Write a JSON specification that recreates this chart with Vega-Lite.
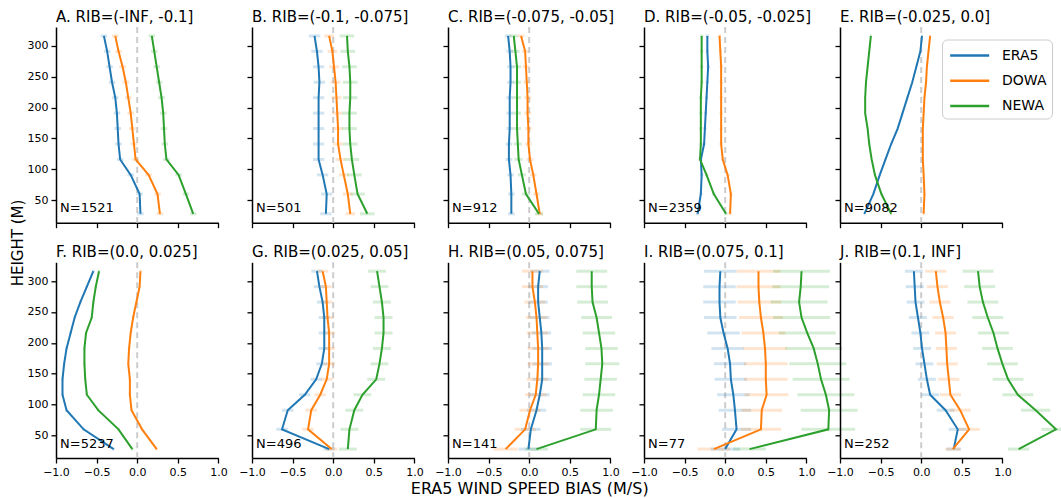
{
 "$schema": "https://vega.github.io/schema/vega-lite/v6.json",
 "background": "white",
 "padding": {"left": 10, "top": 10, "right": 2, "bottom": 2},
 "columns": 5,
 "spacing": {"row": 39.3, "column": 33},
 "bounds": "flush",
 "config": {
  "view": {"stroke": null},
  "font": "DejaVu Sans",
  "title": {"anchor": "start", "frame": "group", "fontSize": 15, "fontWeight": "normal", "font": "DejaVu Sans", "color": "black", "offset": 1},
  "axis": {"grid": false, "labelOverlap": false, "labelFlush": false, "domainColor": "black", "domainWidth": 1.5, "tickColor": "black", "tickWidth": 1.3, "tickSize": 5, "labelFont": "DejaVu Sans", "labelFontSize": 11, "labelColor": "black", "labelPadding": 3, "titleFont": "DejaVu Sans", "titleFontSize": 16, "titleFontWeight": "normal", "titleColor": "black"},
  "legend": {"orient": "none", "legendX": 886, "legendY": 12.5, "symbolType": "M-0.8,0H3.2", "symbolFillColor": "transparent", "symbolOpacity": 1, "symbolStrokeWidth": 2.5, "symbolSize": 380, "labelFont": "DejaVu Sans", "labelFontSize": 14, "labelColor": "black", "strokeColor": "#cccccc", "fillColor": "white", "cornerRadius": 5, "padding": 5, "rowPadding": 7.2, "labelOffset": 33}
 },
 "datasets": {
  "d": [
   {"p":"A","m":"ERA5","h":316,"b":-0.41,"e":0.04},{"p":"A","m":"ERA5","h":291,"b":-0.37,"e":0.04},{"p":"A","m":"ERA5","h":266,"b":-0.34,"e":0.04},{"p":"A","m":"ERA5","h":241,"b":-0.31,"e":0.04},{"p":"A","m":"ERA5","h":216,"b":-0.27,"e":0.04},{"p":"A","m":"ERA5","h":191,"b":-0.25,"e":0.04},{"p":"A","m":"ERA5","h":166,"b":-0.24,"e":0.04},{"p":"A","m":"ERA5","h":141,"b":-0.23,"e":0.04},{"p":"A","m":"ERA5","h":116,"b":-0.21,"e":0.04},{"p":"A","m":"ERA5","h":91,"b":-0.08,"e":0.04},{"p":"A","m":"ERA5","h":60,"b":0.03,"e":0.04},{"p":"A","m":"ERA5","h":28,"b":0.04,"e":0.04},
   {"p":"A","m":"DOWA","h":316,"b":-0.27,"e":0.04},{"p":"A","m":"DOWA","h":291,"b":-0.23,"e":0.04},{"p":"A","m":"DOWA","h":266,"b":-0.18,"e":0.04},{"p":"A","m":"DOWA","h":241,"b":-0.14,"e":0.04},{"p":"A","m":"DOWA","h":216,"b":-0.11,"e":0.04},{"p":"A","m":"DOWA","h":191,"b":-0.08,"e":0.04},{"p":"A","m":"DOWA","h":166,"b":-0.06,"e":0.04},{"p":"A","m":"DOWA","h":141,"b":-0.04,"e":0.04},{"p":"A","m":"DOWA","h":116,"b":-0.02,"e":0.04},{"p":"A","m":"DOWA","h":91,"b":0.14,"e":0.04},{"p":"A","m":"DOWA","h":60,"b":0.25,"e":0.04},{"p":"A","m":"DOWA","h":28,"b":0.28,"e":0.04},
   {"p":"A","m":"NEWA","h":316,"b":0.18,"e":0.04},{"p":"A","m":"NEWA","h":291,"b":0.21,"e":0.04},{"p":"A","m":"NEWA","h":266,"b":0.24,"e":0.04},{"p":"A","m":"NEWA","h":241,"b":0.27,"e":0.04},{"p":"A","m":"NEWA","h":216,"b":0.30,"e":0.04},{"p":"A","m":"NEWA","h":191,"b":0.32,"e":0.04},{"p":"A","m":"NEWA","h":166,"b":0.33,"e":0.04},{"p":"A","m":"NEWA","h":141,"b":0.34,"e":0.04},{"p":"A","m":"NEWA","h":116,"b":0.36,"e":0.04},{"p":"A","m":"NEWA","h":91,"b":0.51,"e":0.04},{"p":"A","m":"NEWA","h":60,"b":0.60,"e":0.04},{"p":"A","m":"NEWA","h":28,"b":0.69,"e":0.04},

   {"p":"B","m":"ERA5","h":316,"b":-0.23,"e":0.07},{"p":"B","m":"ERA5","h":291,"b":-0.20,"e":0.07},{"p":"B","m":"ERA5","h":266,"b":-0.18,"e":0.07},{"p":"B","m":"ERA5","h":241,"b":-0.17,"e":0.07},{"p":"B","m":"ERA5","h":216,"b":-0.18,"e":0.07},{"p":"B","m":"ERA5","h":191,"b":-0.18,"e":0.07},{"p":"B","m":"ERA5","h":166,"b":-0.18,"e":0.07},{"p":"B","m":"ERA5","h":141,"b":-0.18,"e":0.07},{"p":"B","m":"ERA5","h":116,"b":-0.18,"e":0.07},{"p":"B","m":"ERA5","h":91,"b":-0.13,"e":0.07},{"p":"B","m":"ERA5","h":60,"b":-0.08,"e":0.07},{"p":"B","m":"ERA5","h":28,"b":-0.09,"e":0.07},
   {"p":"B","m":"DOWA","h":316,"b":-0.05,"e":0.06},{"p":"B","m":"DOWA","h":291,"b":-0.01,"e":0.06},{"p":"B","m":"DOWA","h":266,"b":0.01,"e":0.06},{"p":"B","m":"DOWA","h":241,"b":0.03,"e":0.06},{"p":"B","m":"DOWA","h":216,"b":0.04,"e":0.06},{"p":"B","m":"DOWA","h":191,"b":0.05,"e":0.06},{"p":"B","m":"DOWA","h":166,"b":0.06,"e":0.06},{"p":"B","m":"DOWA","h":141,"b":0.06,"e":0.06},{"p":"B","m":"DOWA","h":116,"b":0.09,"e":0.06},{"p":"B","m":"DOWA","h":91,"b":0.13,"e":0.06},{"p":"B","m":"DOWA","h":60,"b":0.18,"e":0.06},{"p":"B","m":"DOWA","h":28,"b":0.21,"e":0.06},
   {"p":"B","m":"NEWA","h":316,"b":0.17,"e":0.09},{"p":"B","m":"NEWA","h":291,"b":0.18,"e":0.09},{"p":"B","m":"NEWA","h":266,"b":0.20,"e":0.09},{"p":"B","m":"NEWA","h":241,"b":0.21,"e":0.09},{"p":"B","m":"NEWA","h":216,"b":0.21,"e":0.09},{"p":"B","m":"NEWA","h":191,"b":0.20,"e":0.09},{"p":"B","m":"NEWA","h":166,"b":0.20,"e":0.09},{"p":"B","m":"NEWA","h":141,"b":0.21,"e":0.09},{"p":"B","m":"NEWA","h":116,"b":0.23,"e":0.09},{"p":"B","m":"NEWA","h":91,"b":0.26,"e":0.09},{"p":"B","m":"NEWA","h":60,"b":0.30,"e":0.09},{"p":"B","m":"NEWA","h":28,"b":0.42,"e":0.09},

   {"p":"C","m":"ERA5","h":316,"b":-0.26,"e":0.04},{"p":"C","m":"ERA5","h":291,"b":-0.24,"e":0.04},{"p":"C","m":"ERA5","h":266,"b":-0.23,"e":0.04},{"p":"C","m":"ERA5","h":241,"b":-0.23,"e":0.04},{"p":"C","m":"ERA5","h":216,"b":-0.24,"e":0.04},{"p":"C","m":"ERA5","h":191,"b":-0.24,"e":0.04},{"p":"C","m":"ERA5","h":166,"b":-0.24,"e":0.04},{"p":"C","m":"ERA5","h":141,"b":-0.25,"e":0.04},{"p":"C","m":"ERA5","h":116,"b":-0.25,"e":0.04},{"p":"C","m":"ERA5","h":91,"b":-0.23,"e":0.04},{"p":"C","m":"ERA5","h":60,"b":-0.22,"e":0.04},{"p":"C","m":"ERA5","h":28,"b":-0.22,"e":0.04},
   {"p":"C","m":"DOWA","h":316,"b":-0.10,"e":0.04},{"p":"C","m":"DOWA","h":291,"b":-0.05,"e":0.04},{"p":"C","m":"DOWA","h":266,"b":-0.04,"e":0.04},{"p":"C","m":"DOWA","h":241,"b":-0.03,"e":0.04},{"p":"C","m":"DOWA","h":216,"b":-0.02,"e":0.04},{"p":"C","m":"DOWA","h":191,"b":-0.02,"e":0.04},{"p":"C","m":"DOWA","h":166,"b":-0.01,"e":0.04},{"p":"C","m":"DOWA","h":141,"b":-0.01,"e":0.04},{"p":"C","m":"DOWA","h":116,"b":0.01,"e":0.04},{"p":"C","m":"DOWA","h":91,"b":0.05,"e":0.04},{"p":"C","m":"DOWA","h":60,"b":0.09,"e":0.04},{"p":"C","m":"DOWA","h":28,"b":0.13,"e":0.04},
   {"p":"C","m":"NEWA","h":316,"b":-0.19,"e":0.05},{"p":"C","m":"NEWA","h":291,"b":-0.17,"e":0.05},{"p":"C","m":"NEWA","h":266,"b":-0.15,"e":0.05},{"p":"C","m":"NEWA","h":241,"b":-0.15,"e":0.05},{"p":"C","m":"NEWA","h":216,"b":-0.15,"e":0.05},{"p":"C","m":"NEWA","h":191,"b":-0.15,"e":0.05},{"p":"C","m":"NEWA","h":166,"b":-0.15,"e":0.05},{"p":"C","m":"NEWA","h":141,"b":-0.14,"e":0.05},{"p":"C","m":"NEWA","h":116,"b":-0.13,"e":0.05},{"p":"C","m":"NEWA","h":91,"b":-0.09,"e":0.05},{"p":"C","m":"NEWA","h":60,"b":-0.04,"e":0.05},{"p":"C","m":"NEWA","h":28,"b":0.12,"e":0.05},

   {"p":"D","m":"ERA5","h":316,"b":-0.22,"e":0.02},{"p":"D","m":"ERA5","h":291,"b":-0.22,"e":0.02},{"p":"D","m":"ERA5","h":266,"b":-0.21,"e":0.02},{"p":"D","m":"ERA5","h":241,"b":-0.22,"e":0.02},{"p":"D","m":"ERA5","h":216,"b":-0.23,"e":0.02},{"p":"D","m":"ERA5","h":191,"b":-0.24,"e":0.02},{"p":"D","m":"ERA5","h":166,"b":-0.25,"e":0.02},{"p":"D","m":"ERA5","h":141,"b":-0.26,"e":0.02},{"p":"D","m":"ERA5","h":116,"b":-0.30,"e":0.02},{"p":"D","m":"ERA5","h":91,"b":-0.29,"e":0.02},{"p":"D","m":"ERA5","h":60,"b":-0.30,"e":0.02},{"p":"D","m":"ERA5","h":28,"b":-0.34,"e":0.02},
   {"p":"D","m":"DOWA","h":316,"b":-0.07,"e":0.02},{"p":"D","m":"DOWA","h":291,"b":-0.06,"e":0.02},{"p":"D","m":"DOWA","h":266,"b":-0.05,"e":0.02},{"p":"D","m":"DOWA","h":241,"b":-0.05,"e":0.02},{"p":"D","m":"DOWA","h":216,"b":-0.05,"e":0.02},{"p":"D","m":"DOWA","h":191,"b":-0.05,"e":0.02},{"p":"D","m":"DOWA","h":166,"b":-0.05,"e":0.02},{"p":"D","m":"DOWA","h":141,"b":-0.05,"e":0.02},{"p":"D","m":"DOWA","h":116,"b":-0.03,"e":0.02},{"p":"D","m":"DOWA","h":91,"b":0.03,"e":0.02},{"p":"D","m":"DOWA","h":60,"b":0.07,"e":0.02},{"p":"D","m":"DOWA","h":28,"b":0.06,"e":0.02},
   {"p":"D","m":"NEWA","h":316,"b":-0.29,"e":0.02},{"p":"D","m":"NEWA","h":291,"b":-0.29,"e":0.02},{"p":"D","m":"NEWA","h":266,"b":-0.29,"e":0.02},{"p":"D","m":"NEWA","h":241,"b":-0.29,"e":0.02},{"p":"D","m":"NEWA","h":216,"b":-0.30,"e":0.02},{"p":"D","m":"NEWA","h":191,"b":-0.30,"e":0.02},{"p":"D","m":"NEWA","h":166,"b":-0.30,"e":0.02},{"p":"D","m":"NEWA","h":141,"b":-0.30,"e":0.02},{"p":"D","m":"NEWA","h":116,"b":-0.31,"e":0.02},{"p":"D","m":"NEWA","h":91,"b":-0.23,"e":0.02},{"p":"D","m":"NEWA","h":60,"b":-0.14,"e":0.02},{"p":"D","m":"NEWA","h":28,"b":0.01,"e":0.02},

   {"p":"E","m":"ERA5","h":316,"b":0.01,"e":0.01},{"p":"E","m":"ERA5","h":291,"b":-0.01,"e":0.01},{"p":"E","m":"ERA5","h":266,"b":-0.06,"e":0.01},{"p":"E","m":"ERA5","h":241,"b":-0.11,"e":0.01},{"p":"E","m":"ERA5","h":216,"b":-0.17,"e":0.01},{"p":"E","m":"ERA5","h":191,"b":-0.23,"e":0.01},{"p":"E","m":"ERA5","h":166,"b":-0.29,"e":0.01},{"p":"E","m":"ERA5","h":141,"b":-0.37,"e":0.01},{"p":"E","m":"ERA5","h":116,"b":-0.44,"e":0.01},{"p":"E","m":"ERA5","h":91,"b":-0.51,"e":0.01},{"p":"E","m":"ERA5","h":60,"b":-0.59,"e":0.01},{"p":"E","m":"ERA5","h":28,"b":-0.70,"e":0.01},
   {"p":"E","m":"DOWA","h":316,"b":0.11,"e":0.01},{"p":"E","m":"DOWA","h":291,"b":0.09,"e":0.01},{"p":"E","m":"DOWA","h":266,"b":0.07,"e":0.01},{"p":"E","m":"DOWA","h":241,"b":0.06,"e":0.01},{"p":"E","m":"DOWA","h":216,"b":0.04,"e":0.01},{"p":"E","m":"DOWA","h":191,"b":0.03,"e":0.01},{"p":"E","m":"DOWA","h":166,"b":0.02,"e":0.01},{"p":"E","m":"DOWA","h":141,"b":0.02,"e":0.01},{"p":"E","m":"DOWA","h":116,"b":0.02,"e":0.01},{"p":"E","m":"DOWA","h":91,"b":0.03,"e":0.01},{"p":"E","m":"DOWA","h":60,"b":0.04,"e":0.01},{"p":"E","m":"DOWA","h":28,"b":0.03,"e":0.01},
   {"p":"E","m":"NEWA","h":316,"b":-0.62,"e":0.01},{"p":"E","m":"NEWA","h":291,"b":-0.64,"e":0.01},{"p":"E","m":"NEWA","h":266,"b":-0.66,"e":0.01},{"p":"E","m":"NEWA","h":241,"b":-0.68,"e":0.01},{"p":"E","m":"NEWA","h":216,"b":-0.69,"e":0.01},{"p":"E","m":"NEWA","h":191,"b":-0.69,"e":0.01},{"p":"E","m":"NEWA","h":166,"b":-0.66,"e":0.01},{"p":"E","m":"NEWA","h":141,"b":-0.64,"e":0.01},{"p":"E","m":"NEWA","h":116,"b":-0.61,"e":0.01},{"p":"E","m":"NEWA","h":91,"b":-0.57,"e":0.01},{"p":"E","m":"NEWA","h":60,"b":-0.49,"e":0.01},{"p":"E","m":"NEWA","h":28,"b":-0.37,"e":0.01},

   {"p":"F","m":"ERA5","h":316,"b":-0.54,"e":0.015},{"p":"F","m":"ERA5","h":291,"b":-0.62,"e":0.015},{"p":"F","m":"ERA5","h":266,"b":-0.70,"e":0.015},{"p":"F","m":"ERA5","h":241,"b":-0.77,"e":0.015},{"p":"F","m":"ERA5","h":216,"b":-0.82,"e":0.015},{"p":"F","m":"ERA5","h":191,"b":-0.87,"e":0.015},{"p":"F","m":"ERA5","h":166,"b":-0.90,"e":0.015},{"p":"F","m":"ERA5","h":141,"b":-0.92,"e":0.015},{"p":"F","m":"ERA5","h":116,"b":-0.92,"e":0.015},{"p":"F","m":"ERA5","h":91,"b":-0.87,"e":0.015},{"p":"F","m":"ERA5","h":60,"b":-0.66,"e":0.015},{"p":"F","m":"ERA5","h":28,"b":-0.29,"e":0.015},
   {"p":"F","m":"DOWA","h":316,"b":0.04,"e":0.015},{"p":"F","m":"DOWA","h":291,"b":0.03,"e":0.015},{"p":"F","m":"DOWA","h":266,"b":-0.01,"e":0.015},{"p":"F","m":"DOWA","h":241,"b":-0.05,"e":0.015},{"p":"F","m":"DOWA","h":216,"b":-0.08,"e":0.015},{"p":"F","m":"DOWA","h":191,"b":-0.10,"e":0.015},{"p":"F","m":"DOWA","h":166,"b":-0.11,"e":0.015},{"p":"F","m":"DOWA","h":141,"b":-0.09,"e":0.015},{"p":"F","m":"DOWA","h":116,"b":-0.09,"e":0.015},{"p":"F","m":"DOWA","h":91,"b":-0.07,"e":0.015},{"p":"F","m":"DOWA","h":60,"b":0.06,"e":0.015},{"p":"F","m":"DOWA","h":28,"b":0.24,"e":0.015},
   {"p":"F","m":"NEWA","h":316,"b":-0.47,"e":0.015},{"p":"F","m":"NEWA","h":291,"b":-0.51,"e":0.015},{"p":"F","m":"NEWA","h":266,"b":-0.54,"e":0.015},{"p":"F","m":"NEWA","h":241,"b":-0.56,"e":0.015},{"p":"F","m":"NEWA","h":216,"b":-0.63,"e":0.015},{"p":"F","m":"NEWA","h":191,"b":-0.65,"e":0.015},{"p":"F","m":"NEWA","h":166,"b":-0.65,"e":0.015},{"p":"F","m":"NEWA","h":141,"b":-0.64,"e":0.015},{"p":"F","m":"NEWA","h":116,"b":-0.62,"e":0.015},{"p":"F","m":"NEWA","h":91,"b":-0.48,"e":0.015},{"p":"F","m":"NEWA","h":60,"b":-0.23,"e":0.015},{"p":"F","m":"NEWA","h":28,"b":-0.06,"e":0.015},

   {"p":"G","m":"ERA5","h":316,"b":-0.20,"e":0.07},{"p":"G","m":"ERA5","h":291,"b":-0.17,"e":0.07},{"p":"G","m":"ERA5","h":266,"b":-0.13,"e":0.07},{"p":"G","m":"ERA5","h":241,"b":-0.11,"e":0.07},{"p":"G","m":"ERA5","h":216,"b":-0.11,"e":0.07},{"p":"G","m":"ERA5","h":191,"b":-0.11,"e":0.07},{"p":"G","m":"ERA5","h":166,"b":-0.14,"e":0.07},{"p":"G","m":"ERA5","h":141,"b":-0.21,"e":0.07},{"p":"G","m":"ERA5","h":116,"b":-0.35,"e":0.07},{"p":"G","m":"ERA5","h":91,"b":-0.56,"e":0.07},{"p":"G","m":"ERA5","h":60,"b":-0.63,"e":0.07},{"p":"G","m":"ERA5","h":28,"b":-0.05,"e":0.07},
   {"p":"G","m":"DOWA","h":316,"b":-0.13,"e":0.07},{"p":"G","m":"DOWA","h":291,"b":-0.09,"e":0.07},{"p":"G","m":"DOWA","h":266,"b":-0.08,"e":0.07},{"p":"G","m":"DOWA","h":241,"b":-0.07,"e":0.07},{"p":"G","m":"DOWA","h":216,"b":-0.05,"e":0.07},{"p":"G","m":"DOWA","h":191,"b":-0.05,"e":0.07},{"p":"G","m":"DOWA","h":166,"b":-0.05,"e":0.07},{"p":"G","m":"DOWA","h":141,"b":-0.08,"e":0.07},{"p":"G","m":"DOWA","h":116,"b":-0.16,"e":0.07},{"p":"G","m":"DOWA","h":91,"b":-0.27,"e":0.07},{"p":"G","m":"DOWA","h":60,"b":-0.31,"e":0.07},{"p":"G","m":"DOWA","h":28,"b":-0.02,"e":0.07},
   {"p":"G","m":"NEWA","h":316,"b":0.54,"e":0.11},{"p":"G","m":"NEWA","h":291,"b":0.57,"e":0.11},{"p":"G","m":"NEWA","h":266,"b":0.60,"e":0.11},{"p":"G","m":"NEWA","h":241,"b":0.62,"e":0.11},{"p":"G","m":"NEWA","h":216,"b":0.62,"e":0.11},{"p":"G","m":"NEWA","h":191,"b":0.60,"e":0.11},{"p":"G","m":"NEWA","h":166,"b":0.57,"e":0.11},{"p":"G","m":"NEWA","h":141,"b":0.53,"e":0.11},{"p":"G","m":"NEWA","h":116,"b":0.36,"e":0.11},{"p":"G","m":"NEWA","h":91,"b":0.26,"e":0.11},{"p":"G","m":"NEWA","h":60,"b":0.20,"e":0.11},{"p":"G","m":"NEWA","h":28,"b":0.18,"e":0.11},

   {"p":"H","m":"ERA5","h":316,"b":0.13,"e":0.12},{"p":"H","m":"ERA5","h":291,"b":0.11,"e":0.12},{"p":"H","m":"ERA5","h":266,"b":0.11,"e":0.12},{"p":"H","m":"ERA5","h":241,"b":0.13,"e":0.12},{"p":"H","m":"ERA5","h":216,"b":0.15,"e":0.12},{"p":"H","m":"ERA5","h":191,"b":0.16,"e":0.12},{"p":"H","m":"ERA5","h":166,"b":0.16,"e":0.12},{"p":"H","m":"ERA5","h":141,"b":0.16,"e":0.12},{"p":"H","m":"ERA5","h":116,"b":0.13,"e":0.12},{"p":"H","m":"ERA5","h":91,"b":0.09,"e":0.12},{"p":"H","m":"ERA5","h":60,"b":0.02,"e":0.12},{"p":"H","m":"ERA5","h":28,"b":-0.01,"e":0.12},
   {"p":"H","m":"DOWA","h":316,"b":0.04,"e":0.13},{"p":"H","m":"DOWA","h":291,"b":0.04,"e":0.13},{"p":"H","m":"DOWA","h":266,"b":0.07,"e":0.13},{"p":"H","m":"DOWA","h":241,"b":0.09,"e":0.13},{"p":"H","m":"DOWA","h":216,"b":0.10,"e":0.13},{"p":"H","m":"DOWA","h":191,"b":0.11,"e":0.13},{"p":"H","m":"DOWA","h":166,"b":0.11,"e":0.13},{"p":"H","m":"DOWA","h":141,"b":0.10,"e":0.13},{"p":"H","m":"DOWA","h":116,"b":0.08,"e":0.13},{"p":"H","m":"DOWA","h":91,"b":0.01,"e":0.13},{"p":"H","m":"DOWA","h":60,"b":-0.05,"e":0.13},{"p":"H","m":"DOWA","h":28,"b":-0.29,"e":0.15},
   {"p":"H","m":"NEWA","h":316,"b":0.77,"e":0.19},{"p":"H","m":"NEWA","h":291,"b":0.77,"e":0.19},{"p":"H","m":"NEWA","h":266,"b":0.78,"e":0.19},{"p":"H","m":"NEWA","h":241,"b":0.83,"e":0.19},{"p":"H","m":"NEWA","h":216,"b":0.86,"e":0.2},{"p":"H","m":"NEWA","h":191,"b":0.89,"e":0.2},{"p":"H","m":"NEWA","h":166,"b":0.90,"e":0.21},{"p":"H","m":"NEWA","h":141,"b":0.88,"e":0.2},{"p":"H","m":"NEWA","h":116,"b":0.86,"e":0.2},{"p":"H","m":"NEWA","h":91,"b":0.83,"e":0.2},{"p":"H","m":"NEWA","h":60,"b":0.82,"e":0.19},{"p":"H","m":"NEWA","h":28,"b":0.09,"e":0.14},

   {"p":"I","m":"ERA5","h":316,"b":-0.06,"e":0.2},{"p":"I","m":"ERA5","h":291,"b":-0.07,"e":0.2},{"p":"I","m":"ERA5","h":266,"b":-0.07,"e":0.2},{"p":"I","m":"ERA5","h":241,"b":-0.06,"e":0.2},{"p":"I","m":"ERA5","h":216,"b":-0.02,"e":0.2},{"p":"I","m":"ERA5","h":191,"b":0.03,"e":0.2},{"p":"I","m":"ERA5","h":166,"b":0.06,"e":0.2},{"p":"I","m":"ERA5","h":141,"b":0.07,"e":0.2},{"p":"I","m":"ERA5","h":116,"b":0.10,"e":0.2},{"p":"I","m":"ERA5","h":91,"b":0.12,"e":0.2},{"p":"I","m":"ERA5","h":60,"b":0.14,"e":0.18},{"p":"I","m":"ERA5","h":28,"b":0.0,"e":0.18},
   {"p":"I","m":"DOWA","h":316,"b":0.41,"e":0.27},{"p":"I","m":"DOWA","h":291,"b":0.41,"e":0.27},{"p":"I","m":"DOWA","h":266,"b":0.42,"e":0.27},{"p":"I","m":"DOWA","h":241,"b":0.44,"e":0.27},{"p":"I","m":"DOWA","h":216,"b":0.47,"e":0.27},{"p":"I","m":"DOWA","h":191,"b":0.49,"e":0.27},{"p":"I","m":"DOWA","h":166,"b":0.50,"e":0.27},{"p":"I","m":"DOWA","h":141,"b":0.50,"e":0.27},{"p":"I","m":"DOWA","h":116,"b":0.51,"e":0.27},{"p":"I","m":"DOWA","h":91,"b":0.45,"e":0.25},{"p":"I","m":"DOWA","h":60,"b":0.44,"e":0.25},{"p":"I","m":"DOWA","h":28,"b":-0.14,"e":0.2},
   {"p":"I","m":"NEWA","h":316,"b":0.94,"e":0.35},{"p":"I","m":"NEWA","h":291,"b":0.93,"e":0.35},{"p":"I","m":"NEWA","h":266,"b":0.91,"e":0.35},{"p":"I","m":"NEWA","h":241,"b":0.94,"e":0.35},{"p":"I","m":"NEWA","h":216,"b":1.01,"e":0.35},{"p":"I","m":"NEWA","h":191,"b":1.09,"e":0.35},{"p":"I","m":"NEWA","h":166,"b":1.14,"e":0.35},{"p":"I","m":"NEWA","h":141,"b":1.18,"e":0.35},{"p":"I","m":"NEWA","h":116,"b":1.24,"e":0.35},{"p":"I","m":"NEWA","h":91,"b":1.28,"e":0.35},{"p":"I","m":"NEWA","h":60,"b":1.27,"e":0.33},{"p":"I","m":"NEWA","h":28,"b":0.30,"e":0.2},

   {"p":"J","m":"ERA5","h":316,"b":-0.09,"e":0.11},{"p":"J","m":"ERA5","h":291,"b":-0.08,"e":0.11},{"p":"J","m":"ERA5","h":266,"b":-0.07,"e":0.11},{"p":"J","m":"ERA5","h":241,"b":-0.04,"e":0.11},{"p":"J","m":"ERA5","h":216,"b":-0.01,"e":0.11},{"p":"J","m":"ERA5","h":191,"b":0.01,"e":0.11},{"p":"J","m":"ERA5","h":166,"b":0.04,"e":0.11},{"p":"J","m":"ERA5","h":141,"b":0.07,"e":0.11},{"p":"J","m":"ERA5","h":116,"b":0.11,"e":0.11},{"p":"J","m":"ERA5","h":91,"b":0.30,"e":0.11},{"p":"J","m":"ERA5","h":60,"b":0.45,"e":0.11},{"p":"J","m":"ERA5","h":28,"b":0.40,"e":0.09},
   {"p":"J","m":"DOWA","h":316,"b":0.18,"e":0.13},{"p":"J","m":"DOWA","h":291,"b":0.20,"e":0.13},{"p":"J","m":"DOWA","h":266,"b":0.23,"e":0.13},{"p":"J","m":"DOWA","h":241,"b":0.27,"e":0.13},{"p":"J","m":"DOWA","h":216,"b":0.30,"e":0.13},{"p":"J","m":"DOWA","h":191,"b":0.31,"e":0.13},{"p":"J","m":"DOWA","h":166,"b":0.32,"e":0.13},{"p":"J","m":"DOWA","h":141,"b":0.34,"e":0.13},{"p":"J","m":"DOWA","h":116,"b":0.36,"e":0.13},{"p":"J","m":"DOWA","h":91,"b":0.48,"e":0.13},{"p":"J","m":"DOWA","h":60,"b":0.59,"e":0.13},{"p":"J","m":"DOWA","h":28,"b":0.39,"e":0.09},
   {"p":"J","m":"NEWA","h":316,"b":0.70,"e":0.19},{"p":"J","m":"NEWA","h":291,"b":0.72,"e":0.19},{"p":"J","m":"NEWA","h":266,"b":0.76,"e":0.19},{"p":"J","m":"NEWA","h":241,"b":0.82,"e":0.19},{"p":"J","m":"NEWA","h":216,"b":0.89,"e":0.19},{"p":"J","m":"NEWA","h":191,"b":0.94,"e":0.19},{"p":"J","m":"NEWA","h":166,"b":1.00,"e":0.19},{"p":"J","m":"NEWA","h":141,"b":1.07,"e":0.19},{"p":"J","m":"NEWA","h":116,"b":1.19,"e":0.19},{"p":"J","m":"NEWA","h":91,"b":1.41,"e":0.18},{"p":"J","m":"NEWA","h":60,"b":1.66,"e":0.18},{"p":"J","m":"NEWA","h":28,"b":1.20,"e":0.13}
  ]
 },
 "concat": [
  {"title": "A. RIB=(-INF, -0.1]", "width": 162.4, "height": 195.7, "layer": [
   {"data": {"values": [{}]}, "mark": {"type": "rule", "color": "#cccccc", "strokeWidth": 2, "strokeDash": [6, 4]}, "encoding": {"x": {"datum": 0, "type": "quantitative", "scale": {"domain": [-1, 1], "nice": false}, "axis": {"values": [-1, -0.5, 0, 0.5, 1], "labels": false, "title": null}}}},
   {"data": {"name": "d"}, "transform": [{"filter": "datum.p == 'A'"}], "mark": {"type": "errorbar", "ticks": false, "rule": {"strokeWidth": 3, "opacity": 0.2}}, "encoding": {"x": {"field": "b", "type": "quantitative", "scale": {"domain": [-1, 1], "nice": false}, "axis": {"values": [-1, -0.5, 0, 0.5, 1], "labels": false, "title": null}}, "xError": {"field": "e"}, "y": {"field": "h", "type": "quantitative", "scale": {"domain": [13.6, 330.4], "nice": false, "zero": false}, "axis": {"values": [50, 100, 150, 200, 250, 300], "title": "HEIGHT (M)", "titleFontSize": 15, "titleX": -39, "titleY": 215.5, "titleAngle": -90, "titleAlign": "center", "titleBaseline": "middle"}}, "color": {"field": "m", "type": "nominal", "scale": {"domain": ["ERA5", "DOWA", "NEWA"], "range": ["#1f77b4", "#ff7f0e", "#2ca02c"]}, "legend": {"title": null}}}},
   {"data": {"name": "d"}, "transform": [{"filter": "datum.p == 'A'"}], "mark": {"type": "line", "strokeWidth": 2}, "encoding": {"x": {"field": "b", "type": "quantitative", "scale": {"domain": [-1, 1], "nice": false}, "axis": {"values": [-1, -0.5, 0, 0.5, 1], "labels": false, "title": null}}, "y": {"field": "h", "type": "quantitative", "scale": {"domain": [13.6, 330.4], "nice": false, "zero": false}, "axis": {"values": [50, 100, 150, 200, 250, 300], "title": "HEIGHT (M)", "titleFontSize": 15, "titleX": -39, "titleY": 215.5, "titleAngle": -90, "titleAlign": "center", "titleBaseline": "middle"}}, "color": {"field": "m", "type": "nominal", "scale": {"domain": ["ERA5", "DOWA", "NEWA"], "range": ["#1f77b4", "#ff7f0e", "#2ca02c"]}, "legend": {"title": null}}, "order": {"field": "h", "type": "quantitative"}}},
   {"data": {"values": [{"t": "N=1521"}]}, "mark": {"type": "text", "align": "left", "baseline": "middle", "fontSize": 13}, "encoding": {"text": {"field": "t"}, "x": {"datum": -0.95, "type": "quantitative", "scale": {"domain": [-1, 1], "nice": false}, "axis": {"values": [-1, -0.5, 0, 0.5, 1], "labels": false, "title": null}}, "y": {"datum": 38, "type": "quantitative", "scale": {"domain": [13.6, 330.4], "nice": false, "zero": false}, "axis": {"values": [50, 100, 150, 200, 250, 300], "title": "HEIGHT (M)", "titleFontSize": 15, "titleX": -39, "titleY": 215.5, "titleAngle": -90, "titleAlign": "center", "titleBaseline": "middle"}}}}
  ]},
  {"title": "B. RIB=(-0.1, -0.075]", "width": 162.4, "height": 195.7, "layer": [
   {"data": {"values": [{}]}, "mark": {"type": "rule", "color": "#cccccc", "strokeWidth": 2, "strokeDash": [6, 4]}, "encoding": {"x": {"datum": 0, "type": "quantitative", "scale": {"domain": [-1, 1], "nice": false}, "axis": {"values": [-1, -0.5, 0, 0.5, 1], "labels": false, "title": null}}}},
   {"data": {"name": "d"}, "transform": [{"filter": "datum.p == 'B'"}], "mark": {"type": "errorbar", "ticks": false, "rule": {"strokeWidth": 3, "opacity": 0.2}}, "encoding": {"x": {"field": "b", "type": "quantitative", "scale": {"domain": [-1, 1], "nice": false}, "axis": {"values": [-1, -0.5, 0, 0.5, 1], "labels": false, "title": null}}, "xError": {"field": "e"}, "y": {"field": "h", "type": "quantitative", "scale": {"domain": [13.6, 330.4], "nice": false, "zero": false}, "axis": {"values": [50, 100, 150, 200, 250, 300], "labels": false, "title": null}}, "color": {"field": "m", "type": "nominal", "scale": {"domain": ["ERA5", "DOWA", "NEWA"], "range": ["#1f77b4", "#ff7f0e", "#2ca02c"]}, "legend": {"title": null}}}},
   {"data": {"name": "d"}, "transform": [{"filter": "datum.p == 'B'"}], "mark": {"type": "line", "strokeWidth": 2}, "encoding": {"x": {"field": "b", "type": "quantitative", "scale": {"domain": [-1, 1], "nice": false}, "axis": {"values": [-1, -0.5, 0, 0.5, 1], "labels": false, "title": null}}, "y": {"field": "h", "type": "quantitative", "scale": {"domain": [13.6, 330.4], "nice": false, "zero": false}, "axis": {"values": [50, 100, 150, 200, 250, 300], "labels": false, "title": null}}, "color": {"field": "m", "type": "nominal", "scale": {"domain": ["ERA5", "DOWA", "NEWA"], "range": ["#1f77b4", "#ff7f0e", "#2ca02c"]}, "legend": {"title": null}}, "order": {"field": "h", "type": "quantitative"}}},
   {"data": {"values": [{"t": "N=501"}]}, "mark": {"type": "text", "align": "left", "baseline": "middle", "fontSize": 13}, "encoding": {"text": {"field": "t"}, "x": {"datum": -0.95, "type": "quantitative", "scale": {"domain": [-1, 1], "nice": false}, "axis": {"values": [-1, -0.5, 0, 0.5, 1], "labels": false, "title": null}}, "y": {"datum": 38, "type": "quantitative", "scale": {"domain": [13.6, 330.4], "nice": false, "zero": false}, "axis": {"values": [50, 100, 150, 200, 250, 300], "labels": false, "title": null}}}}
  ]},
  {"title": "C. RIB=(-0.075, -0.05]", "width": 162.4, "height": 195.7, "layer": [
   {"data": {"values": [{}]}, "mark": {"type": "rule", "color": "#cccccc", "strokeWidth": 2, "strokeDash": [6, 4]}, "encoding": {"x": {"datum": 0, "type": "quantitative", "scale": {"domain": [-1, 1], "nice": false}, "axis": {"values": [-1, -0.5, 0, 0.5, 1], "labels": false, "title": null}}}},
   {"data": {"name": "d"}, "transform": [{"filter": "datum.p == 'C'"}], "mark": {"type": "errorbar", "ticks": false, "rule": {"strokeWidth": 3, "opacity": 0.2}}, "encoding": {"x": {"field": "b", "type": "quantitative", "scale": {"domain": [-1, 1], "nice": false}, "axis": {"values": [-1, -0.5, 0, 0.5, 1], "labels": false, "title": null}}, "xError": {"field": "e"}, "y": {"field": "h", "type": "quantitative", "scale": {"domain": [13.6, 330.4], "nice": false, "zero": false}, "axis": {"values": [50, 100, 150, 200, 250, 300], "labels": false, "title": null}}, "color": {"field": "m", "type": "nominal", "scale": {"domain": ["ERA5", "DOWA", "NEWA"], "range": ["#1f77b4", "#ff7f0e", "#2ca02c"]}, "legend": {"title": null}}}},
   {"data": {"name": "d"}, "transform": [{"filter": "datum.p == 'C'"}], "mark": {"type": "line", "strokeWidth": 2}, "encoding": {"x": {"field": "b", "type": "quantitative", "scale": {"domain": [-1, 1], "nice": false}, "axis": {"values": [-1, -0.5, 0, 0.5, 1], "labels": false, "title": null}}, "y": {"field": "h", "type": "quantitative", "scale": {"domain": [13.6, 330.4], "nice": false, "zero": false}, "axis": {"values": [50, 100, 150, 200, 250, 300], "labels": false, "title": null}}, "color": {"field": "m", "type": "nominal", "scale": {"domain": ["ERA5", "DOWA", "NEWA"], "range": ["#1f77b4", "#ff7f0e", "#2ca02c"]}, "legend": {"title": null}}, "order": {"field": "h", "type": "quantitative"}}},
   {"data": {"values": [{"t": "N=912"}]}, "mark": {"type": "text", "align": "left", "baseline": "middle", "fontSize": 13}, "encoding": {"text": {"field": "t"}, "x": {"datum": -0.95, "type": "quantitative", "scale": {"domain": [-1, 1], "nice": false}, "axis": {"values": [-1, -0.5, 0, 0.5, 1], "labels": false, "title": null}}, "y": {"datum": 38, "type": "quantitative", "scale": {"domain": [13.6, 330.4], "nice": false, "zero": false}, "axis": {"values": [50, 100, 150, 200, 250, 300], "labels": false, "title": null}}}}
  ]},
  {"title": "D. RIB=(-0.05, -0.025]", "width": 162.4, "height": 195.7, "layer": [
   {"data": {"values": [{}]}, "mark": {"type": "rule", "color": "#cccccc", "strokeWidth": 2, "strokeDash": [6, 4]}, "encoding": {"x": {"datum": 0, "type": "quantitative", "scale": {"domain": [-1, 1], "nice": false}, "axis": {"values": [-1, -0.5, 0, 0.5, 1], "labels": false, "title": null}}}},
   {"data": {"name": "d"}, "transform": [{"filter": "datum.p == 'D'"}], "mark": {"type": "errorbar", "ticks": false, "rule": {"strokeWidth": 3, "opacity": 0.2}}, "encoding": {"x": {"field": "b", "type": "quantitative", "scale": {"domain": [-1, 1], "nice": false}, "axis": {"values": [-1, -0.5, 0, 0.5, 1], "labels": false, "title": null}}, "xError": {"field": "e"}, "y": {"field": "h", "type": "quantitative", "scale": {"domain": [13.6, 330.4], "nice": false, "zero": false}, "axis": {"values": [50, 100, 150, 200, 250, 300], "labels": false, "title": null}}, "color": {"field": "m", "type": "nominal", "scale": {"domain": ["ERA5", "DOWA", "NEWA"], "range": ["#1f77b4", "#ff7f0e", "#2ca02c"]}, "legend": {"title": null}}}},
   {"data": {"name": "d"}, "transform": [{"filter": "datum.p == 'D'"}], "mark": {"type": "line", "strokeWidth": 2}, "encoding": {"x": {"field": "b", "type": "quantitative", "scale": {"domain": [-1, 1], "nice": false}, "axis": {"values": [-1, -0.5, 0, 0.5, 1], "labels": false, "title": null}}, "y": {"field": "h", "type": "quantitative", "scale": {"domain": [13.6, 330.4], "nice": false, "zero": false}, "axis": {"values": [50, 100, 150, 200, 250, 300], "labels": false, "title": null}}, "color": {"field": "m", "type": "nominal", "scale": {"domain": ["ERA5", "DOWA", "NEWA"], "range": ["#1f77b4", "#ff7f0e", "#2ca02c"]}, "legend": {"title": null}}, "order": {"field": "h", "type": "quantitative"}}},
   {"data": {"values": [{"t": "N=2359"}]}, "mark": {"type": "text", "align": "left", "baseline": "middle", "fontSize": 13}, "encoding": {"text": {"field": "t"}, "x": {"datum": -0.95, "type": "quantitative", "scale": {"domain": [-1, 1], "nice": false}, "axis": {"values": [-1, -0.5, 0, 0.5, 1], "labels": false, "title": null}}, "y": {"datum": 38, "type": "quantitative", "scale": {"domain": [13.6, 330.4], "nice": false, "zero": false}, "axis": {"values": [50, 100, 150, 200, 250, 300], "labels": false, "title": null}}}}
  ]},
  {"title": "E. RIB=(-0.025, 0.0]", "width": 162.4, "height": 195.7, "layer": [
   {"data": {"values": [{}]}, "mark": {"type": "rule", "color": "#cccccc", "strokeWidth": 2, "strokeDash": [6, 4]}, "encoding": {"x": {"datum": 0, "type": "quantitative", "scale": {"domain": [-1, 1], "nice": false}, "axis": {"values": [-1, -0.5, 0, 0.5, 1], "labels": false, "title": null}}}},
   {"data": {"name": "d"}, "transform": [{"filter": "datum.p == 'E'"}], "mark": {"type": "errorbar", "ticks": false, "rule": {"strokeWidth": 3, "opacity": 0.2}}, "encoding": {"x": {"field": "b", "type": "quantitative", "scale": {"domain": [-1, 1], "nice": false}, "axis": {"values": [-1, -0.5, 0, 0.5, 1], "labels": false, "title": null}}, "xError": {"field": "e"}, "y": {"field": "h", "type": "quantitative", "scale": {"domain": [13.6, 330.4], "nice": false, "zero": false}, "axis": {"values": [50, 100, 150, 200, 250, 300], "labels": false, "title": null}}, "color": {"field": "m", "type": "nominal", "scale": {"domain": ["ERA5", "DOWA", "NEWA"], "range": ["#1f77b4", "#ff7f0e", "#2ca02c"]}, "legend": {"title": null}}}},
   {"data": {"name": "d"}, "transform": [{"filter": "datum.p == 'E'"}], "mark": {"type": "line", "strokeWidth": 2}, "encoding": {"x": {"field": "b", "type": "quantitative", "scale": {"domain": [-1, 1], "nice": false}, "axis": {"values": [-1, -0.5, 0, 0.5, 1], "labels": false, "title": null}}, "y": {"field": "h", "type": "quantitative", "scale": {"domain": [13.6, 330.4], "nice": false, "zero": false}, "axis": {"values": [50, 100, 150, 200, 250, 300], "labels": false, "title": null}}, "color": {"field": "m", "type": "nominal", "scale": {"domain": ["ERA5", "DOWA", "NEWA"], "range": ["#1f77b4", "#ff7f0e", "#2ca02c"]}, "legend": {"title": null}}, "order": {"field": "h", "type": "quantitative"}}},
   {"data": {"values": [{"t": "N=9082"}]}, "mark": {"type": "text", "align": "left", "baseline": "middle", "fontSize": 13}, "encoding": {"text": {"field": "t"}, "x": {"datum": -0.95, "type": "quantitative", "scale": {"domain": [-1, 1], "nice": false}, "axis": {"values": [-1, -0.5, 0, 0.5, 1], "labels": false, "title": null}}, "y": {"datum": 38, "type": "quantitative", "scale": {"domain": [13.6, 330.4], "nice": false, "zero": false}, "axis": {"values": [50, 100, 150, 200, 250, 300], "labels": false, "title": null}}}}
  ]},
  {"title": "F. RIB=(0.0, 0.025]", "width": 162.4, "height": 195.7, "layer": [
   {"data": {"values": [{}]}, "mark": {"type": "rule", "color": "#cccccc", "strokeWidth": 2, "strokeDash": [6, 4]}, "encoding": {"x": {"datum": 0, "type": "quantitative", "scale": {"domain": [-1, 1], "nice": false}, "axis": {"values": [-1, -0.5, 0, 0.5, 1], "format": ".1f", "title": null}}}},
   {"data": {"name": "d"}, "transform": [{"filter": "datum.p == 'F'"}], "mark": {"type": "errorbar", "ticks": false, "rule": {"strokeWidth": 3, "opacity": 0.2}}, "encoding": {"x": {"field": "b", "type": "quantitative", "scale": {"domain": [-1, 1], "nice": false}, "axis": {"values": [-1, -0.5, 0, 0.5, 1], "format": ".1f", "title": null}}, "xError": {"field": "e"}, "y": {"field": "h", "type": "quantitative", "scale": {"domain": [13.6, 330.4], "nice": false, "zero": false}, "axis": {"values": [50, 100, 150, 200, 250, 300], "title": null}}, "color": {"field": "m", "type": "nominal", "scale": {"domain": ["ERA5", "DOWA", "NEWA"], "range": ["#1f77b4", "#ff7f0e", "#2ca02c"]}, "legend": {"title": null}}}},
   {"data": {"name": "d"}, "transform": [{"filter": "datum.p == 'F'"}], "mark": {"type": "line", "strokeWidth": 2}, "encoding": {"x": {"field": "b", "type": "quantitative", "scale": {"domain": [-1, 1], "nice": false}, "axis": {"values": [-1, -0.5, 0, 0.5, 1], "format": ".1f", "title": null}}, "y": {"field": "h", "type": "quantitative", "scale": {"domain": [13.6, 330.4], "nice": false, "zero": false}, "axis": {"values": [50, 100, 150, 200, 250, 300], "title": null}}, "color": {"field": "m", "type": "nominal", "scale": {"domain": ["ERA5", "DOWA", "NEWA"], "range": ["#1f77b4", "#ff7f0e", "#2ca02c"]}, "legend": {"title": null}}, "order": {"field": "h", "type": "quantitative"}}},
   {"data": {"values": [{"t": "N=5237"}]}, "mark": {"type": "text", "align": "left", "baseline": "middle", "fontSize": 13}, "encoding": {"text": {"field": "t"}, "x": {"datum": -0.95, "type": "quantitative", "scale": {"domain": [-1, 1], "nice": false}, "axis": {"values": [-1, -0.5, 0, 0.5, 1], "format": ".1f", "title": null}}, "y": {"datum": 36, "type": "quantitative", "scale": {"domain": [13.6, 330.4], "nice": false, "zero": false}, "axis": {"values": [50, 100, 150, 200, 250, 300], "title": null}}}}
  ]},
  {"title": "G. RIB=(0.025, 0.05]", "width": 162.4, "height": 195.7, "layer": [
   {"data": {"values": [{}]}, "mark": {"type": "rule", "color": "#cccccc", "strokeWidth": 2, "strokeDash": [6, 4]}, "encoding": {"x": {"datum": 0, "type": "quantitative", "scale": {"domain": [-1, 1], "nice": false}, "axis": {"values": [-1, -0.5, 0, 0.5, 1], "format": ".1f", "title": null}}}},
   {"data": {"name": "d"}, "transform": [{"filter": "datum.p == 'G'"}], "mark": {"type": "errorbar", "ticks": false, "rule": {"strokeWidth": 3, "opacity": 0.2}}, "encoding": {"x": {"field": "b", "type": "quantitative", "scale": {"domain": [-1, 1], "nice": false}, "axis": {"values": [-1, -0.5, 0, 0.5, 1], "format": ".1f", "title": null}}, "xError": {"field": "e"}, "y": {"field": "h", "type": "quantitative", "scale": {"domain": [13.6, 330.4], "nice": false, "zero": false}, "axis": {"values": [50, 100, 150, 200, 250, 300], "labels": false, "title": null}}, "color": {"field": "m", "type": "nominal", "scale": {"domain": ["ERA5", "DOWA", "NEWA"], "range": ["#1f77b4", "#ff7f0e", "#2ca02c"]}, "legend": {"title": null}}}},
   {"data": {"name": "d"}, "transform": [{"filter": "datum.p == 'G'"}], "mark": {"type": "line", "strokeWidth": 2}, "encoding": {"x": {"field": "b", "type": "quantitative", "scale": {"domain": [-1, 1], "nice": false}, "axis": {"values": [-1, -0.5, 0, 0.5, 1], "format": ".1f", "title": null}}, "y": {"field": "h", "type": "quantitative", "scale": {"domain": [13.6, 330.4], "nice": false, "zero": false}, "axis": {"values": [50, 100, 150, 200, 250, 300], "labels": false, "title": null}}, "color": {"field": "m", "type": "nominal", "scale": {"domain": ["ERA5", "DOWA", "NEWA"], "range": ["#1f77b4", "#ff7f0e", "#2ca02c"]}, "legend": {"title": null}}, "order": {"field": "h", "type": "quantitative"}}},
   {"data": {"values": [{"t": "N=496"}]}, "mark": {"type": "text", "align": "left", "baseline": "middle", "fontSize": 13}, "encoding": {"text": {"field": "t"}, "x": {"datum": -0.95, "type": "quantitative", "scale": {"domain": [-1, 1], "nice": false}, "axis": {"values": [-1, -0.5, 0, 0.5, 1], "format": ".1f", "title": null}}, "y": {"datum": 36, "type": "quantitative", "scale": {"domain": [13.6, 330.4], "nice": false, "zero": false}, "axis": {"values": [50, 100, 150, 200, 250, 300], "labels": false, "title": null}}}}
  ]},
  {"title": "H. RIB=(0.05, 0.075]", "width": 162.4, "height": 195.7, "layer": [
   {"data": {"values": [{}]}, "mark": {"type": "rule", "color": "#cccccc", "strokeWidth": 2, "strokeDash": [6, 4]}, "encoding": {"x": {"datum": 0, "type": "quantitative", "scale": {"domain": [-1, 1], "nice": false}, "axis": {"values": [-1, -0.5, 0, 0.5, 1], "format": ".1f", "title": "ERA5 WIND SPEED BIAS (M/S)", "titlePadding": 3}}}},
   {"data": {"name": "d"}, "transform": [{"filter": "datum.p == 'H'"}], "mark": {"type": "errorbar", "ticks": false, "rule": {"strokeWidth": 3, "opacity": 0.2}}, "encoding": {"x": {"field": "b", "type": "quantitative", "scale": {"domain": [-1, 1], "nice": false}, "axis": {"values": [-1, -0.5, 0, 0.5, 1], "format": ".1f", "title": "ERA5 WIND SPEED BIAS (M/S)", "titlePadding": 3}}, "xError": {"field": "e"}, "y": {"field": "h", "type": "quantitative", "scale": {"domain": [13.6, 330.4], "nice": false, "zero": false}, "axis": {"values": [50, 100, 150, 200, 250, 300], "labels": false, "title": null}}, "color": {"field": "m", "type": "nominal", "scale": {"domain": ["ERA5", "DOWA", "NEWA"], "range": ["#1f77b4", "#ff7f0e", "#2ca02c"]}, "legend": {"title": null}}}},
   {"data": {"name": "d"}, "transform": [{"filter": "datum.p == 'H'"}], "mark": {"type": "line", "strokeWidth": 2}, "encoding": {"x": {"field": "b", "type": "quantitative", "scale": {"domain": [-1, 1], "nice": false}, "axis": {"values": [-1, -0.5, 0, 0.5, 1], "format": ".1f", "title": "ERA5 WIND SPEED BIAS (M/S)", "titlePadding": 3}}, "y": {"field": "h", "type": "quantitative", "scale": {"domain": [13.6, 330.4], "nice": false, "zero": false}, "axis": {"values": [50, 100, 150, 200, 250, 300], "labels": false, "title": null}}, "color": {"field": "m", "type": "nominal", "scale": {"domain": ["ERA5", "DOWA", "NEWA"], "range": ["#1f77b4", "#ff7f0e", "#2ca02c"]}, "legend": {"title": null}}, "order": {"field": "h", "type": "quantitative"}}},
   {"data": {"values": [{"t": "N=141"}]}, "mark": {"type": "text", "align": "left", "baseline": "middle", "fontSize": 13}, "encoding": {"text": {"field": "t"}, "x": {"datum": -0.95, "type": "quantitative", "scale": {"domain": [-1, 1], "nice": false}, "axis": {"values": [-1, -0.5, 0, 0.5, 1], "format": ".1f", "title": "ERA5 WIND SPEED BIAS (M/S)", "titlePadding": 3}}, "y": {"datum": 36, "type": "quantitative", "scale": {"domain": [13.6, 330.4], "nice": false, "zero": false}, "axis": {"values": [50, 100, 150, 200, 250, 300], "labels": false, "title": null}}}}
  ]},
  {"title": "I. RIB=(0.075, 0.1]", "width": 162.4, "height": 195.7, "layer": [
   {"data": {"values": [{}]}, "mark": {"type": "rule", "color": "#cccccc", "strokeWidth": 2, "strokeDash": [6, 4]}, "encoding": {"x": {"datum": 0, "type": "quantitative", "scale": {"domain": [-1, 1], "nice": false}, "axis": {"values": [-1, -0.5, 0, 0.5, 1], "format": ".1f", "title": null}}}},
   {"data": {"name": "d"}, "transform": [{"filter": "datum.p == 'I'"}], "mark": {"type": "errorbar", "ticks": false, "rule": {"strokeWidth": 3, "opacity": 0.2}}, "encoding": {"x": {"field": "b", "type": "quantitative", "scale": {"domain": [-1, 1], "nice": false}, "axis": {"values": [-1, -0.5, 0, 0.5, 1], "format": ".1f", "title": null}}, "xError": {"field": "e"}, "y": {"field": "h", "type": "quantitative", "scale": {"domain": [13.6, 330.4], "nice": false, "zero": false}, "axis": {"values": [50, 100, 150, 200, 250, 300], "labels": false, "title": null}}, "color": {"field": "m", "type": "nominal", "scale": {"domain": ["ERA5", "DOWA", "NEWA"], "range": ["#1f77b4", "#ff7f0e", "#2ca02c"]}, "legend": {"title": null}}}},
   {"data": {"name": "d"}, "transform": [{"filter": "datum.p == 'I'"}], "mark": {"type": "line", "strokeWidth": 2}, "encoding": {"x": {"field": "b", "type": "quantitative", "scale": {"domain": [-1, 1], "nice": false}, "axis": {"values": [-1, -0.5, 0, 0.5, 1], "format": ".1f", "title": null}}, "y": {"field": "h", "type": "quantitative", "scale": {"domain": [13.6, 330.4], "nice": false, "zero": false}, "axis": {"values": [50, 100, 150, 200, 250, 300], "labels": false, "title": null}}, "color": {"field": "m", "type": "nominal", "scale": {"domain": ["ERA5", "DOWA", "NEWA"], "range": ["#1f77b4", "#ff7f0e", "#2ca02c"]}, "legend": {"title": null}}, "order": {"field": "h", "type": "quantitative"}}},
   {"data": {"values": [{"t": "N=77"}]}, "mark": {"type": "text", "align": "left", "baseline": "middle", "fontSize": 13}, "encoding": {"text": {"field": "t"}, "x": {"datum": -0.95, "type": "quantitative", "scale": {"domain": [-1, 1], "nice": false}, "axis": {"values": [-1, -0.5, 0, 0.5, 1], "format": ".1f", "title": null}}, "y": {"datum": 36, "type": "quantitative", "scale": {"domain": [13.6, 330.4], "nice": false, "zero": false}, "axis": {"values": [50, 100, 150, 200, 250, 300], "labels": false, "title": null}}}}
  ]},
  {"title": "J. RIB=(0.1, INF]", "width": 162.4, "height": 195.7, "layer": [
   {"data": {"values": [{}]}, "mark": {"type": "rule", "color": "#cccccc", "strokeWidth": 2, "strokeDash": [6, 4]}, "encoding": {"x": {"datum": 0, "type": "quantitative", "scale": {"domain": [-1, 1], "nice": false}, "axis": {"values": [-1, -0.5, 0, 0.5, 1], "format": ".1f", "title": null}}}},
   {"data": {"name": "d"}, "transform": [{"filter": "datum.p == 'J'"}], "mark": {"type": "errorbar", "ticks": false, "rule": {"strokeWidth": 3, "opacity": 0.2}}, "encoding": {"x": {"field": "b", "type": "quantitative", "scale": {"domain": [-1, 1], "nice": false}, "axis": {"values": [-1, -0.5, 0, 0.5, 1], "format": ".1f", "title": null}}, "xError": {"field": "e"}, "y": {"field": "h", "type": "quantitative", "scale": {"domain": [13.6, 330.4], "nice": false, "zero": false}, "axis": {"values": [50, 100, 150, 200, 250, 300], "labels": false, "title": null}}, "color": {"field": "m", "type": "nominal", "scale": {"domain": ["ERA5", "DOWA", "NEWA"], "range": ["#1f77b4", "#ff7f0e", "#2ca02c"]}, "legend": {"title": null}}}},
   {"data": {"name": "d"}, "transform": [{"filter": "datum.p == 'J'"}], "mark": {"type": "line", "strokeWidth": 2}, "encoding": {"x": {"field": "b", "type": "quantitative", "scale": {"domain": [-1, 1], "nice": false}, "axis": {"values": [-1, -0.5, 0, 0.5, 1], "format": ".1f", "title": null}}, "y": {"field": "h", "type": "quantitative", "scale": {"domain": [13.6, 330.4], "nice": false, "zero": false}, "axis": {"values": [50, 100, 150, 200, 250, 300], "labels": false, "title": null}}, "color": {"field": "m", "type": "nominal", "scale": {"domain": ["ERA5", "DOWA", "NEWA"], "range": ["#1f77b4", "#ff7f0e", "#2ca02c"]}, "legend": {"title": null}}, "order": {"field": "h", "type": "quantitative"}}},
   {"data": {"values": [{"t": "N=252"}]}, "mark": {"type": "text", "align": "left", "baseline": "middle", "fontSize": 13}, "encoding": {"text": {"field": "t"}, "x": {"datum": -0.95, "type": "quantitative", "scale": {"domain": [-1, 1], "nice": false}, "axis": {"values": [-1, -0.5, 0, 0.5, 1], "format": ".1f", "title": null}}, "y": {"datum": 36, "type": "quantitative", "scale": {"domain": [13.6, 330.4], "nice": false, "zero": false}, "axis": {"values": [50, 100, 150, 200, 250, 300], "labels": false, "title": null}}}}
  ]}
 ]
}
